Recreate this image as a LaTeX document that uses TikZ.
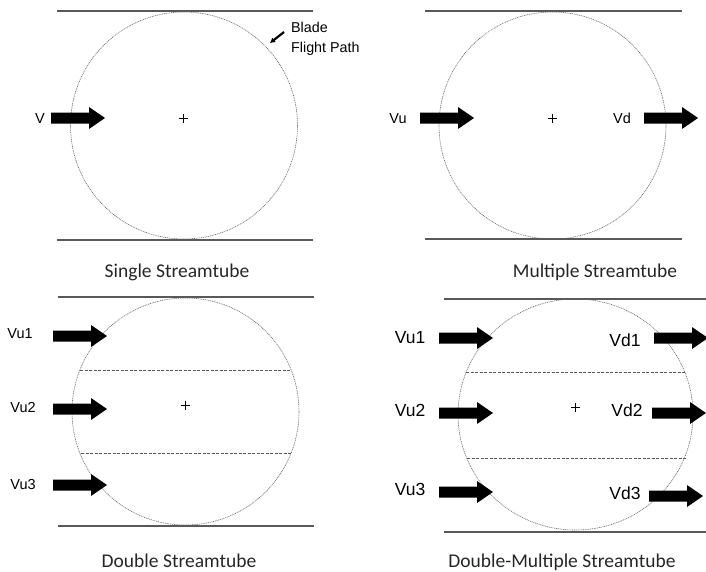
\documentclass[tikz,border=0pt]{standalone}
\usepackage{fontspec}
\usetikzlibrary{arrows.meta}
\setmainfont{Liberation Sans}
\newfontfamily\calfont{Carlito}
\begin{document}
\begin{tikzpicture}[x=1pt,y=-1pt,
  tubeline/.style={draw=black!65,line width=1.2pt},
  bladepath/.style={draw=black!60,line width=0.6pt,dash pattern=on 1pt off 0.8pt},
  divider/.style={draw=black!65,line width=0.6pt,dash pattern=on 3pt off 1.5pt},
  lbl/.style={font=\fontsize{14.5}{16}\selectfont,inner sep=0pt,anchor=base},
  lblb/.style={font=\fontsize{17.5}{19}\selectfont,inner sep=0pt,anchor=base},
  ttl/.style={font=\calfont\fontsize{19.5}{21}\selectfont,inner sep=0pt,text=black!85,anchor=base},
  fatarrow/.pic={\fill[black] (0,-5.5) -- (38,-5.5) -- (38,-11) -- (54,0) -- (38,11) -- (38,5.5) -- (0,5.5) -- cycle;},
  plusmark/.pic={\draw[line width=0.6pt] (-4.5,0) -- (4.5,0) (0,-4.5) -- (0,4.5);}
]
\useasboundingbox (0,0) rectangle (706,571);

% ---------- Panel 1: Single Streamtube
\draw[tubeline] (57,11) -- (313,11);
\draw[tubeline] (57,240) -- (313,240);
\draw[bladepath] (184,125.5) circle (113.5);
\pic at (183,118) {plusmark};
\pic at (51,118) {fatarrow};
\node[lbl] (v) at (40,123) {V};
\node[lbl,anchor=base west,font=\fontsize{14.3}{15}\selectfont] (blade1) at (291,32) {Blade};
\node[lbl,anchor=base west,font=\fontsize{14.3}{15}\selectfont] (blade2) at (291,52) {Flight Path};
\coordinate (bladetip) at (270,43);
\draw[line width=2.2pt,-{Latex[length=5pt,width=6pt]}] (284,32) -- (bladetip);
\node[ttl] (t1) at (177,277) {Single Streamtube};

% ---------- Panel 2: Multiple Streamtube
\draw[tubeline] (425,11) -- (682,11);
\draw[tubeline] (425,239) -- (682,239);
\draw[bladepath] (552.5,125.5) circle (113.5);
\pic at (552,118) {plusmark};
\pic at (420,118) {fatarrow};
\pic at (644,118) {fatarrow};
\node[lbl] (vu) at (398,123) {Vu};
\node[lbl] (vd) at (622,123) {Vd};
\node[ttl] (t2) at (595,277) {Multiple Streamtube};

% ---------- Panel 3: Double Streamtube
\draw[tubeline] (58,297) -- (314,297);
\draw[tubeline] (58,526) -- (314,526);
\draw[bladepath] (185.5,411.5) circle (113.5);
\draw[divider] (80,370) -- (291,370);
\draw[divider] (81,453) -- (292,453);
\pic at (185,405) {plusmark};
\pic at (53,336) {fatarrow};
\pic at (53,409) {fatarrow};
\pic at (53,485) {fatarrow};
\node[lbl] (a1) at (20,338) {Vu1};
\node[lbl] (a2) at (23,412) {Vu2};
\node[lbl] (a3) at (23,489) {Vu3};
\node[ttl] (t3) at (179,567) {Double Streamtube};

% ---------- Panel 4: Double-Multiple Streamtube
\draw[tubeline] (444,299) -- (712,299);
\draw[tubeline] (444,532) -- (712,532);
\draw[bladepath] (575.5,414.5) ellipse [x radius=117.5, y radius=115.5];
\draw[divider] (466,372) -- (685,372);
\draw[divider] (467,458) -- (686,458);
\pic at (575,407) {plusmark};
\pic at (439,338) {fatarrow};
\pic at (439,413) {fatarrow};
\pic at (439,492) {fatarrow};
\pic at (654,338) {fatarrow};
\pic at (652,413) {fatarrow};
\pic at (649,496) {fatarrow};
\node[lblb] (b1) at (410,343) {Vu1};
\node[lblb] (b2) at (410,416) {Vu2};
\node[lblb] (b3) at (410,495) {Vu3};
\node[lblb] (c1) at (625,346) {Vd1};
\node[lblb] (c2) at (627,416) {Vd2};
\node[lblb] (c3) at (625,499) {Vd3};
\node[ttl] (t4) at (562,567) {Double-Multiple Streamtube};
\end{tikzpicture}
\end{document}
